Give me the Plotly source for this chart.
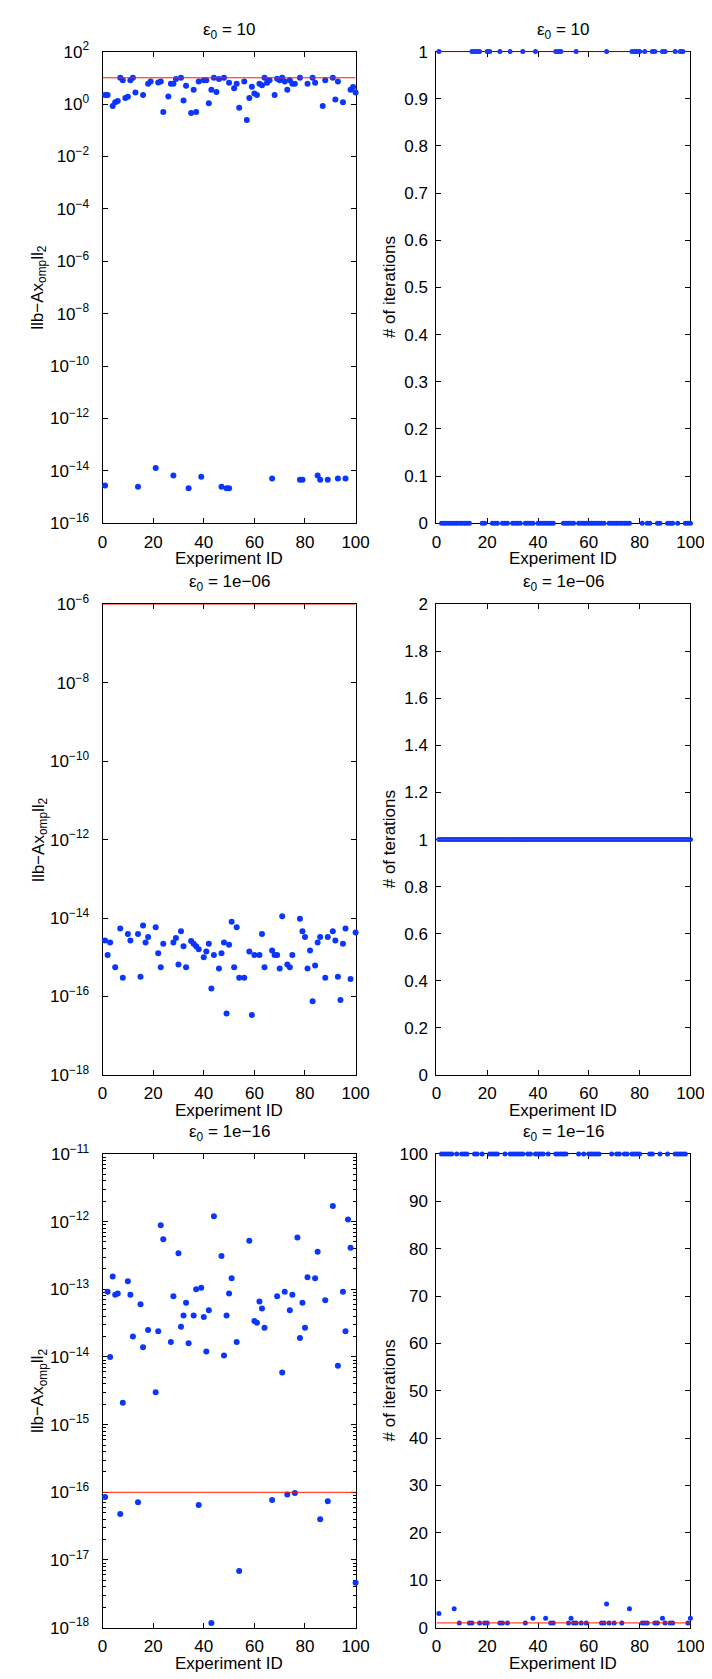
import plotly.graph_objects as go

W, H = 712, 1679

# ---------------- data ----------------
experiments = list(range(1, 101))

# Row 1 (eps0 = 10): residual norms
r1_res_x = [1, 2, 4, 5, 6, 7, 8, 9, 10, 11, 12, 13, 16, 18, 19, 22, 23, 24, 26, 27, 28, 29, 31, 32, 33,
            35, 36, 37, 38, 40, 41, 42, 43, 44, 45, 46, 48, 50, 52, 53, 54, 56, 57, 58, 59, 60, 61, 62,
            63, 64, 65, 66, 68, 69, 70, 71, 72, 73, 74, 75, 76, 78, 81, 83, 84, 87, 88, 91, 92, 93, 95,
            98, 99, 100,
            1, 14, 21, 28, 34, 39, 47, 49, 50, 67, 78, 79, 85, 86, 89, 93, 96]
r1_res_y = [2.2, 2.2, 0.83, 1.17, 1.3, 10, 8, 1.7, 1.9, 8, 10, 2.75, 2.2, 5.9, 7.2, 6.6, 7.2, 0.5, 1.95, 5.9,
            5.9, 9, 10, 1.35, 5, 0.45, 3.5, 0.5, 7.2, 8, 8, 1.07, 3.5, 10, 2.9, 9, 10, 6.4, 4.0, 5.9, 0.72,
            7.2, 0.245, 1.7, 4.6, 2.5, 2.2, 5.9, 5.2, 10, 6.4, 8, 2.2, 9.2, 8, 10, 7.2, 3.5, 8, 5.9, 5.9,
            10, 5.9, 10, 6.4, 0.83, 8, 10, 1.5, 7.2, 1.17, 3.5, 4.5, 2.75,
            2.8e-15, 2.5e-15, 1.3e-14, 6.7e-15, 2.2e-15, 6e-15, 2.5e-15, 2.2e-15, 2.2e-15, 5.1e-15,
            4.6e-15, 4.6e-15, 6.7e-15, 4.6e-15, 4.6e-15, 5.1e-15, 5.1e-15]

# Row 1 (eps0 = 10): iterations
r1_it1_x = [1, 14, 15, 16, 17, 20, 21, 25, 29, 34, 39, 47, 48, 49, 55, 67, 77, 78, 79, 80, 82, 85, 86,
            89, 90, 94, 96, 97]
r1_it0_x = [2, 3, 4, 5, 6, 7, 8, 9, 10, 11, 12, 13, 18, 19, 22, 23, 24, 26, 27, 28, 30, 31, 32, 33, 35,
            36, 37, 38, 40, 41, 42, 43, 44, 45, 46, 50, 51, 52, 53, 54, 56, 57, 58, 59, 60, 61, 62, 63,
            64, 65, 66, 68, 69, 70, 71, 72, 73, 74, 75, 76, 81, 83, 84, 87, 88, 91, 92, 93, 95, 98, 99, 100]

# Row 2 (eps0 = 1e-06): residual norms
r2_res_x = [1, 2, 3, 5, 7, 8, 10, 11, 14, 15, 16, 17, 18, 21, 22, 23, 24, 28, 29, 30, 31, 32, 33, 35, 36,
            37, 38, 40, 41, 42, 43, 44, 46, 47, 48, 49, 50, 51, 52, 53, 54, 56, 58, 59, 60, 62, 63, 64,
            67, 68, 69, 70, 71, 73, 74, 75, 78, 79, 80, 81, 82, 83, 84, 85, 86, 88, 89, 91, 92, 93, 94,
            95, 96, 98, 100]
r2_res_y = [2.7e-15, 1.15e-15, 2.4e-15, 5.6e-16, 5.4e-15, 3.0e-16, 3.9e-15, 2.7e-15, 3.9e-15, 3.2e-16,
            6.5e-15, 2.4e-15, 3.3e-15, 5.8e-15, 1.26e-15, 5.6e-16, 2.2e-15, 2.4e-15, 3.1e-15, 6.6e-16,
            4.6e-15, 1.9e-15, 5.6e-16, 2.6e-15, 2.2e-15, 1.9e-15, 1.6e-15, 1.0e-15, 1.4e-15, 2.2e-15,
            1.6e-16, 1.15e-15, 5.2e-16, 1.26e-15, 2.4e-15, 3.7e-17, 2.1e-15, 8.1e-15, 5.6e-16, 5.8e-15,
            3.0e-16, 3.0e-16, 1.4e-15, 3.4e-17, 1.15e-15, 1.15e-15, 3.9e-15, 5.6e-16, 1.5e-15, 1.15e-15,
            1.15e-15, 5.2e-16, 1.12e-14, 6.6e-16, 5.6e-16, 1.15e-15, 9.6e-15, 4.6e-15, 3.3e-15, 5.2e-16,
            1.5e-15, 7.6e-17, 6.2e-16, 2.4e-15, 3.3e-15, 3.0e-16, 3.3e-15, 4.6e-15, 2.7e-15, 3.2e-16,
            8.1e-17, 2.2e-15, 5.4e-15, 2.8e-16, 4.3e-15]

# Row 2 (eps0 = 1e-06): iterations (all one)
r2_it_y = [1] * 100

# Row 3 (eps0 = 1e-16): residual norms
r3_res_x = [1, 2, 3, 4, 5, 6, 7, 8, 10, 11, 12, 14, 15, 16, 18, 21, 22, 23, 24, 27, 28, 30, 31, 32, 33,
            34, 36, 37, 38, 39, 40, 41, 42, 43, 44, 47, 48, 49, 50, 51, 53, 54, 58, 60, 61, 62, 63, 64,
            67, 69, 71, 72, 73, 74, 75, 76, 77, 78, 79, 80, 81, 84, 85, 86, 88, 89, 91, 93, 95, 96, 97,
            98, 100]
r3_res_y = [8.5e-17, 9.2e-14, 1.0e-14, 1.54e-13, 8.3e-14, 8.7e-14, 4.8e-17, 2.1e-15, 1.32e-13, 8.3e-14,
            2.0e-14, 7.1e-17, 6.0e-14, 1.39e-14, 2.5e-14, 3.0e-15, 2.4e-14, 8.8e-13, 5.5e-13, 1.66e-14,
            7.9e-14, 3.4e-13, 2.8e-14, 4.1e-14, 6.3e-14, 1.6e-14, 4.1e-14, 1.0e-13, 6.5e-17, 1.05e-13,
            3.9e-14, 1.2e-14, 4.9e-14, 1.17e-18, 1.2e-12, 3.1e-13, 1.05e-14, 4.1e-14, 8.7e-14, 1.45e-13,
            1.66e-14, 6.9e-18, 5.2e-13, 3.4e-14, 3.2e-14, 6.6e-14, 5.2e-14, 2.7e-14, 7.7e-17, 7.9e-14,
            5.9e-15, 9.2e-14, 9.3e-17, 4.9e-14, 8.3e-14, 9.8e-17, 5.8e-13, 1.9e-14, 6.3e-14, 2.7e-14,
            1.5e-13, 1.45e-13, 3.6e-13, 4.0e-17, 6.9e-14, 7.4e-17, 1.7e-12, 7.4e-15, 9.2e-14, 2.4e-14,
            1.07e-12, 4.1e-13, 4.6e-18]

# Row 3 (eps0 = 1e-16): iterations
r3_it_max_x = [2, 3, 4, 5, 6, 8, 10, 11, 12, 15, 16, 18, 21, 22, 23, 24, 27, 29, 30, 31, 32, 33, 34, 36,
               37, 39, 40, 41, 42, 44, 47, 48, 49, 50, 51, 56, 58, 60, 61, 62, 63, 64, 69, 71, 72, 74,
               75, 77, 78, 79, 80, 84, 85, 88, 91, 94, 95, 96, 97, 98]
r3_it_max_y = [100] * 60
r3_it_low_x = [1, 7, 9, 13, 14, 17, 19, 20, 25, 26, 28, 35, 38, 43, 45, 46, 52, 53, 54, 55, 57, 59, 65,
               66, 67, 68, 70, 73, 76, 81, 82, 83, 86, 87, 89, 90, 92, 93, 99, 100]
r3_it_low_y = [3, 4, 1, 1, 1, 1, 1, 1, 1, 1, 1, 1, 2, 2, 1, 1, 1, 2, 1, 1, 1, 1, 1, 1, 5, 1, 1, 1, 4, 1,
               1, 1, 1, 1, 2, 1, 1, 1, 1, 2]

# reference (red) lines
line_x = [0, 100]
eps_levels = [10, 1e-06, 1e-16]
iter_ref = [1, 1, 1]

titles = ["ε<sub>0</sub> = 10", "ε<sub>0</sub> = 1e−06", "ε<sub>0</sub> = 1e−16"]
res_label = "llb−Ax<sub>omp</sub>ll<sub>2</sub>"
iter_labels = ["# of iterations", "# of terations", "# of iterations"]
x_label = "Experiment ID"
x_ticks = [0, 20, 40, 60, 80, 100]

# log tick decades
r1_log_ticks = [-16, -14, -12, -10, -8, -6, -4, -2, 0, 2]
r2_log_ticks = [-18, -16, -14, -12, -10, -8, -6]
r3_log_ticks = [-18, -17, -16, -15, -14, -13, -12, -11]
minor_mult = [2, 3, 4, 5, 6, 7, 8, 9]

# ---------------- style / layout ----------------
BLUE = "#0a36ff"
RED = "#ff1a00"
FONT = "Liberation Sans, Arial, Helvetica, sans-serif"
FS = 17

colx = [(92, 352), (435, 696)]
rowy = [(32, 510), (592, 1069), (1149, 1629)]
ystandoff = [9, 4]


def px_x(p):
    return p / W


def px_y(p):
    return 1 - p / H


fig = go.Figure()


def sup_text(e):
    s = str(e).replace("-", "−")
    return "10<sup>%s</sup>" % s


def add_axes(idx, col, row, ytype, yrange, tickvals, ticktext, dtick=None, minorvals=None):
    xa = "xaxis" if idx == 1 else "xaxis%d" % idx
    ya = "yaxis" if idx == 1 else "yaxis%d" % idx
    xref = "x" if idx == 1 else "x%d" % idx
    yref = "y" if idx == 1 else "y%d" % idx
    x0, x1 = colx[col]
    y0, y1 = rowy[row]
    common = dict(showline=True, linecolor="black", linewidth=1, mirror="ticks",
                  ticks="inside", ticklen=5, tickcolor="black", tickwidth=1,
                  showgrid=False, zeroline=False, layer="below traces",
                  tickfont=dict(family=FONT, size=FS, color="black"))
    fig.layout[xa] = dict(domain=[px_x(x0), px_x(x1)], anchor=yref, range=[0, 100],
                          tickmode="array", tickvals=x_ticks, ticklabelstandoff=3, **common)
    ydict = dict(domain=[px_y(y1), px_y(y0)], anchor=xref, type=ytype, range=yrange,
                 ticklabelstandoff=ystandoff[col], **common)
    if tickvals is not None:
        ydict.update(tickmode="array", tickvals=tickvals, ticktext=ticktext)
    else:
        ydict.update(tickmode="linear", tick0=0, dtick=dtick)
    if minorvals is not None:
        ydict["minor"] = dict(tickmode="array", tickvals=minorvals, ticks="inside", ticklen=3,
                              tickcolor="black", tickwidth=1, showgrid=False)
    fig.layout[ya] = ydict
    return xref, yref


def scatter(xref, yref, x, y, size):
    fig.add_trace(go.Scatter(x=x, y=y, mode="markers", xaxis=xref, yaxis=yref,
                             marker=dict(color=BLUE, size=size, line=dict(width=0)),
                             cliponaxis=False, showlegend=False, hoverinfo="skip"))


def refline(xref, yref, level):
    fig.add_trace(go.Scatter(x=line_x, y=[level, level], mode="lines", xaxis=xref, yaxis=yref,
                             line=dict(color=RED, width=1), cliponaxis=False,
                             showlegend=False, hoverinfo="skip"))


MS_L = 6
MS_R = 5

# Row 1
xr, yr = add_axes(1, 0, 0, "log", [-16, 2], [10 ** e for e in r1_log_ticks],
                  [sup_text(e) for e in r1_log_ticks])
scatter(xr, yr, r1_res_x, r1_res_y, MS_L)
refline(xr, yr, eps_levels[0])
xr, yr = add_axes(2, 1, 0, "linear", [0, 1], None, None, dtick=0.1)
scatter(xr, yr, r1_it1_x, [1] * len(r1_it1_x), MS_R)
scatter(xr, yr, r1_it0_x, [0] * len(r1_it0_x), MS_R)
refline(xr, yr, iter_ref[0])

# Row 2
xr, yr = add_axes(3, 0, 1, "log", [-18, -6], [10 ** e for e in r2_log_ticks],
                  [sup_text(e) for e in r2_log_ticks])
scatter(xr, yr, r2_res_x, r2_res_y, MS_L)
refline(xr, yr, eps_levels[1])
xr, yr = add_axes(4, 1, 1, "linear", [0, 2], None, None, dtick=0.2)
scatter(xr, yr, experiments, r2_it_y, MS_R)
refline(xr, yr, iter_ref[1])

# Row 3
r3_minor = [m * 10.0 ** e for e in r3_log_ticks[:-1] for m in minor_mult]
xr, yr = add_axes(5, 0, 2, "log", [-18, -11], [10 ** e for e in r3_log_ticks],
                  [sup_text(e) for e in r3_log_ticks], minorvals=r3_minor)
scatter(xr, yr, r3_res_x, r3_res_y, MS_L)
refline(xr, yr, eps_levels[2])
xr, yr = add_axes(6, 1, 2, "linear", [0, 100], None, None, dtick=10)
scatter(xr, yr, r3_it_max_x, r3_it_max_y, MS_R)
scatter(xr, yr, r3_it_low_x, r3_it_low_y, MS_R)
refline(xr, yr, iter_ref[2])

# annotations: titles, axis labels
ann = []
for r in range(3):
    y0, y1 = rowy[r]
    for c in range(2):
        x0, x1 = colx[c]
        ann.append(dict(text=titles[r], x=px_x((x0 + x1) / 2), y=px_y(y0), xref="paper", yref="paper",
                        xanchor="center", yanchor="bottom", yshift=8, showarrow=False,
                        font=dict(family=FONT, size=FS, color="black")))
        ann.append(dict(text=x_label, x=px_x((x0 + x1) / 2), y=px_y(y1 + 36), xref="paper", yref="paper",
                        xanchor="center", yanchor="middle", showarrow=False,
                        font=dict(family=FONT, size=FS, color="black")))
    ann.append(dict(text=res_label, x=px_x(27), y=px_y((y0 + y1) / 2), xref="paper", yref="paper",
                    xanchor="center", yanchor="middle", textangle=-90, showarrow=False,
                    font=dict(family=FONT, size=FS, color="black")))
    ann.append(dict(text=iter_labels[r], x=px_x(387), y=px_y((y0 + y1) / 2), xref="paper", yref="paper",
                    xanchor="center", yanchor="middle", textangle=-90, showarrow=False,
                    font=dict(family=FONT, size=FS, color="black")))

fig.update_layout(width=W, height=H, margin=dict(l=0, r=0, t=0, b=0),
                  paper_bgcolor="white", plot_bgcolor="white",
                  font=dict(family=FONT, size=FS, color="black"),
                  annotations=ann, showlegend=False)

fig.write_html("out.html")
